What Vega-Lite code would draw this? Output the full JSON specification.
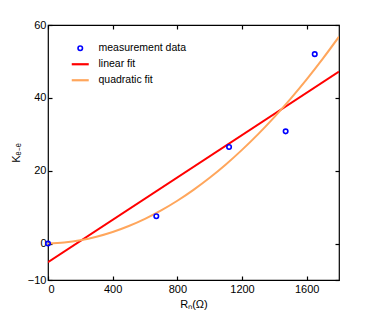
{
  "$schema": "https://vega.github.io/schema/vega-lite/v6.json",
  "width": 291,
  "height": 255,
  "autosize": {"type": "none"},
  "padding": {"left": 48, "top": 25, "right": 35, "bottom": 35},
  "background": "white",
  "config": {
    "font": "Liberation Sans",
    "view": {"stroke": "black", "strokeWidth": 1.2},
    "axis": {"grid": false, "domain": false, "ticks": true, "tickColor": "black", "tickSize": -4, "tickWidth": 1.2, "zindex": 2, "labelFont": "Liberation Sans", "labelFontSize": 11, "labelColor": "black", "titleFont": "Liberation Sans", "titleFontSize": 11, "titleFontWeight": "normal", "titleColor": "black", "format": "d"}
  },
  "datasets": {
    "meas": [
      {"x": 0, "y": 0, "series": "measurement data"},
      {"x": 670, "y": 7.5, "series": "measurement data"},
      {"x": 1120, "y": 26.5, "series": "measurement data"},
      {"x": 1470, "y": 30.8, "series": "measurement data"},
      {"x": 1650, "y": 52, "series": "measurement data"}
    ],
    "lin": [
      {"x": 0, "y": -5.1, "series": "linear fit"},
      {"x": 1800, "y": 47.2, "series": "linear fit"}
    ],
    "quad": [
      {"x": 0, "y": 0, "series": "quadratic fit"},
      {"x": 100, "y": 0.29, "series": "quadratic fit"},
      {"x": 200, "y": 0.91, "series": "quadratic fit"},
      {"x": 300, "y": 1.88, "series": "quadratic fit"},
      {"x": 400, "y": 3.18, "series": "quadratic fit"},
      {"x": 500, "y": 4.82, "series": "quadratic fit"},
      {"x": 600, "y": 6.79, "series": "quadratic fit"},
      {"x": 700, "y": 9.1, "series": "quadratic fit"},
      {"x": 800, "y": 11.75, "series": "quadratic fit"},
      {"x": 900, "y": 14.74, "series": "quadratic fit"},
      {"x": 1000, "y": 18.06, "series": "quadratic fit"},
      {"x": 1100, "y": 21.72, "series": "quadratic fit"},
      {"x": 1200, "y": 25.72, "series": "quadratic fit"},
      {"x": 1300, "y": 30.05, "series": "quadratic fit"},
      {"x": 1400, "y": 34.73, "series": "quadratic fit"},
      {"x": 1500, "y": 39.74, "series": "quadratic fit"},
      {"x": 1600, "y": 45.08, "series": "quadratic fit"},
      {"x": 1700, "y": 50.77, "series": "quadratic fit"},
      {"x": 1800, "y": 56.79, "series": "quadratic fit"}
    ]
  },
  "layer": [
    {
      "encoding": {
        "x": {"field": "x", "type": "quantitative", "scale": {"domain": [0, 1800], "nice": false, "zero": false},
          "axis": {"orient": "bottom", "values": [0, 400, 800, 1200, 1600], "title": "Rₙ(Ω)", "labelPadding": 7, "titlePadding": 4}},
        "y": {"field": "y", "type": "quantitative", "scale": {"domain": [-10, 60], "nice": false, "zero": false},
          "axis": {"orient": "left", "values": [-10, 0, 20, 40, 60], "title": "Kₑ₋ₑ", "labelPadding": 6, "titlePadding": 6}},
        "color": {"field": "series", "type": "nominal",
          "scale": {"domain": ["measurement data", "linear fit", "quadratic fit"], "range": ["#0000ff", "#ff0000", "#ffa65c"]},
          "legend": {"orient": "none", "legendX": 27, "legendY": 18, "title": null, "labelFont": "Liberation Sans", "labelFontSize": 10.5, "labelColor": "black", "rowPadding": 5, "labelOffset": 13, "symbolSize": 289,
            "encode": {"symbols": {"update": {
              "shape": {"signal": "datum.value === 'measurement data' ? 'circle' : 'stroke'"},
              "size": {"signal": "datum.value === 'measurement data' ? 20 : 289"},
              "fill": {"value": "transparent"},
              "stroke": {"signal": "scale('color', datum.value)"},
              "strokeWidth": {"signal": "datum.value === 'measurement data' ? 1.6 : 2.2"},
              "opacity": {"value": 1}
            }}}}}
      },
      "layer": [
        {"data": {"name": "lin"}, "mark": {"type": "line", "strokeWidth": 2, "clip": true}},
        {"data": {"name": "quad"}, "mark": {"type": "line", "strokeWidth": 2, "interpolate": "monotone", "clip": true}},
        {"data": {"name": "meas"}, "mark": {"type": "point", "shape": "circle", "filled": false, "size": 20, "strokeWidth": 1.6, "opacity": 1, "clip": false}}
      ]
    },
    {
      "data": {"name": "meas"},
      "mark": {"type": "point", "opacity": 0},
      "encoding": {
        "x": {"field": "x", "type": "quantitative", "axis": {"orient": "top", "values": [0, 400, 800, 1200, 1600], "labels": false, "title": null}},
        "y": {"field": "y", "type": "quantitative", "axis": {"orient": "right", "values": [-10, 0, 20, 40, 60], "labels": false, "title": null}}
      }
    }
  ],
  "resolve": {"axis": {"x": "independent", "y": "independent"}}
}
